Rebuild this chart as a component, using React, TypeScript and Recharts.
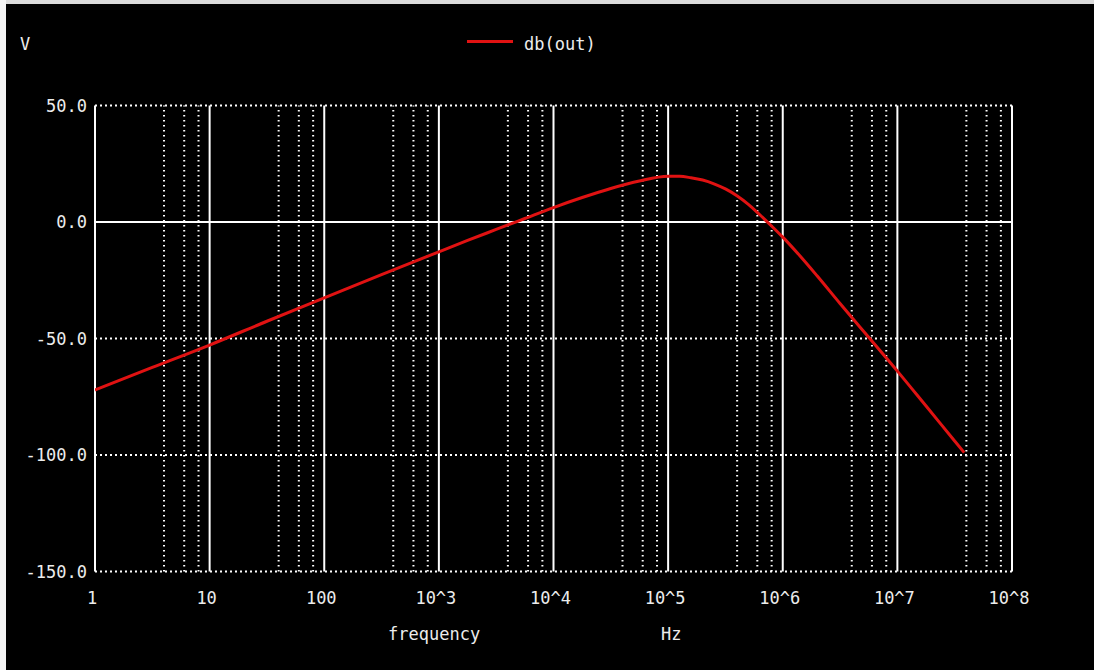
import React from "react";
import { LineChart, Line, XAxis, YAxis, ReferenceLine } from "recharts";

// frequency (Hz) and magnitude (dB)
const freqHz = [
  1, 3.16, 10, 31.6, 100, 316, 1000, 1780, 3160, 5620, 10000, 17800, 31600, 56200,
  100000, 126000, 158000, 200000, 251000, 316000, 398000, 501000, 631000, 794000,
  1000000, 1410000, 2000000, 3160000, 5620000, 10000000, 17800000, 31600000, 38300000,
];
const dbOut = [
  -72.1, -62.4, -52.8, -42.6, -32.6, -22.6, -12.8, -7.9, -3.2, 1.5, 6.2, 10.5, 14.4, 17.6,
  19.6, 19.6, 19.0, 18.0, 16.4, 14.2, 11.3, 7.6, 3.1, -1.6,
  -6.5, -14.5, -23.2, -35, -49.5, -64, -79, -94, -99,
];

const xMajorTicks = [1, 10, 100, 1e3, 1e4, 1e5, 1e6, 1e7, 1e8];
const xTickLabels = ["1", "10", "100", "10^3", "10^4", "10^5", "10^6", "10^7", "10^8"];
const xMinorMultipliers = [4, 6, 8];
const yTicks = [50, 0, -50, -100, -150];
const ySolid = [0];

const seriesName = "db(out)";
const yUnit = "V";
const xName = "frequency";
const xUnit = "Hz";

const data = freqHz.map((f, i) => ({ f, db: dbOut[i] }));
const xMinorTicks: number[] = [];
xMajorTicks.slice(0, -1).forEach((d) => xMinorMultipliers.forEach((m) => xMinorTicks.push(d * m)));

const FONT = "'DejaVu Sans Mono', 'Liberation Mono', monospace";
const TXT = "#ececec";
const RED = "#e01212";

const textStyle: React.CSSProperties = {
  position: "absolute",
  fontFamily: FONT,
  fontSize: 17,
  color: TXT,
  lineHeight: "17px",
  whiteSpace: "pre",
};

export default function App() {
  return (
    <div
      style={{
        position: "absolute",
        left: 0,
        top: 0,
        width: 1094,
        height: 670,
        background: "#000",
        overflow: "hidden",
      }}
    >
      <div style={{ position: "absolute", left: 0, top: 0, width: 1094, height: 4, background: "#dcdcdc" }} />
      <div style={{ position: "absolute", left: 0, top: 0, width: 6, height: 670, background: "#f4f4f4" }} />
      <div style={{ ...textStyle, left: 20, top: 36 }}>{yUnit}</div>
      <div style={{ ...textStyle, left: 388, top: 626 }}>{xName}</div>
      <div style={{ ...textStyle, left: 661, top: 626 }}>{xUnit}</div>
      <div style={{ position: "absolute", left: 467, top: 40, width: 46, height: 3, background: RED }} />
      <div style={{ ...textStyle, left: 524, top: 36 }}>{seriesName}</div>
      <LineChart
        width={1094}
        height={670}
        data={data}
        margin={{ top: 105.5, right: 82, bottom: 58.5, left: 5 }}
        style={{ position: "absolute", left: 0, top: 0 }}
      >
        <XAxis
          dataKey="f"
          type="number"
          scale="log"
          domain={[1, 1e8]}
          ticks={xMajorTicks}
          allowDataOverflow
          height={40}
          axisLine={false}
          tickLine={false}
          tickSize={0}
          tickMargin={20}
          interval={0}
          tick={{ fill: TXT, fontSize: 17, fontFamily: FONT, dx: -3 }}
          tickFormatter={(v: number) => xTickLabels[xMajorTicks.indexOf(v)] ?? String(v)}
        />
        <YAxis
          type="number"
          domain={[-150, 50]}
          ticks={yTicks}
          width={90}
          axisLine={false}
          tickLine={false}
          tickSize={0}
          tickMargin={8}
          interval={0}
          tick={{ fill: TXT, fontSize: 17, fontFamily: FONT }}
          tickFormatter={(v: number) => v.toFixed(1)}
        />
        {xMinorTicks.map((v) => (
          <ReferenceLine key={"mx" + v} x={v} stroke="#ffffff" strokeWidth={2} strokeDasharray="1.5 3.5" />
        ))}
        {yTicks
          .filter((v) => !ySolid.includes(v))
          .map((v) => (
            <ReferenceLine key={"hy" + v} y={v} stroke="#ffffff" strokeWidth={2} strokeDasharray="2 3" />
          ))}
        {xMajorTicks.map((v) => (
          <ReferenceLine key={"Mx" + v} x={v} stroke="#ffffff" strokeWidth={2} />
        ))}
        {ySolid.map((v) => (
          <ReferenceLine key={"sy" + v} y={v} stroke="#ffffff" strokeWidth={2} />
        ))}
        <Line
          type="monotone"
          dataKey="db"
          name={seriesName}
          stroke={RED}
          strokeWidth={3}
          dot={false}
          activeDot={false}
          isAnimationActive={false}
        />
      </LineChart>
    </div>
  );
}
